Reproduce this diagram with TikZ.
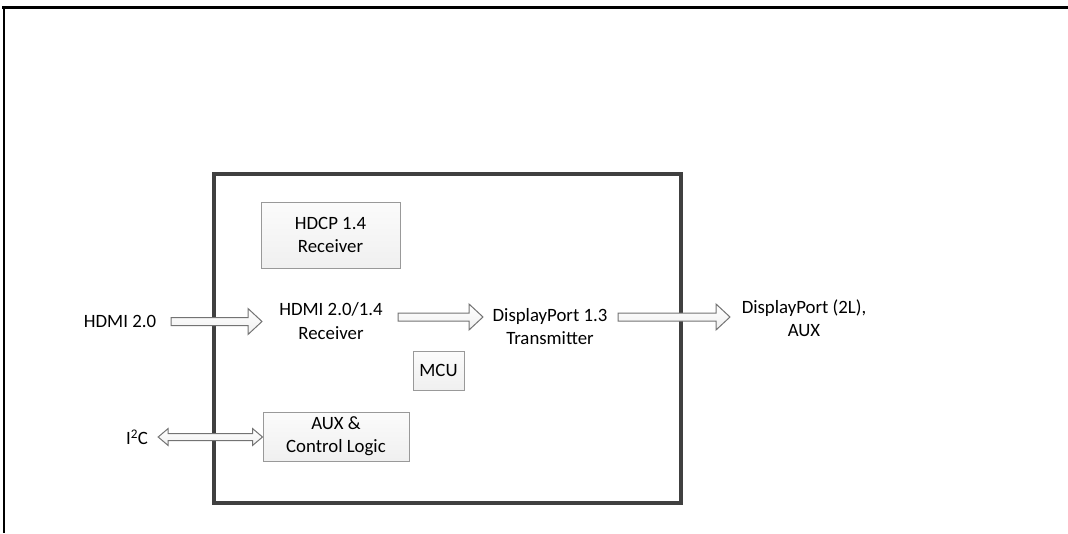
\documentclass[tikz,border=0pt]{standalone}
\usepackage{fontspec}
\setmainfont{Carlito}
\usetikzlibrary{calc}
\tikzset{
  lbl/.style={align=center, font=\fontsize{18.8}{23.5}\selectfont, inner sep=0pt},
  blk/.style={draw=gray!80, top color=gray!3, bottom color=gray!12, line width=1pt, align=center, font=\fontsize{18.8}{23}\selectfont, inner sep=0pt},
  barrow/.style={draw=gray!90!black, top color=white, bottom color=gray!12, line width=1pt, line join=miter},
  chip/.style={draw=black!75, line width=4pt},
  frame/.style={draw=black, line width=3pt}
}
\newcommand\blkarrow[2]{%
  \draw[barrow] let \p1=(#1), \p2=(#2) in
    (\x1,\y1+4) -- (\x2-14,\y1+4) -- (\x2-14,\y1+13) -- (\x2,\y1) --
    (\x2-14,\y1-13) -- (\x2-14,\y1-4) -- (\x1,\y1-4) -- cycle;}
\begin{document}
\begin{tikzpicture}[x=1pt,y=-1pt]
\useasboundingbox (0,0) rectangle (1068,533);
% outer frame lines
\draw[frame] (2,7) -- (1068,7);
\draw[draw=black, line width=2.2pt] (3.7,7) -- (3.7,533);
% main chip box
\draw[chip] (213.7,173.7) rectangle (681,503);
% blocks
\node[blk, minimum width=139pt, minimum height=66pt] (hdcp) at (330.5,235) {HDCP 1.4\\Receiver};
\node[blk, minimum width=51pt, minimum height=39pt] (mcu) at (438.5,370.5) {MCU};
\node[blk, minimum width=146pt, minimum height=49pt] (auxc) at (336,436.5) {AUX \&\\Control Logic};
% labels
\node[lbl] (hdmiin) at (120,321) {HDMI 2.0};
\node[lbl] (rx) at (331,321) {HDMI 2.0/1.4\\Receiver};
\node[lbl] (tx) at (550,326.5) {DisplayPort 1.3\\Transmitter};
\node[lbl] (dpout) at (804,318) {DisplayPort (2L),\\AUX};
\node[lbl] (i2c) at (137,437) {I\textsuperscript{2}C};
% arrow end points
\coordinate (a1s) at (171,321.5); \coordinate (a1e) at (262,321.5);
\coordinate (a2s) at (398,317); \coordinate (a2e) at (483,317);
\coordinate (a3s) at (618,317); \coordinate (a3e) at (730,317);
\blkarrow{a1s}{a1e}
\blkarrow{a2s}{a2e}
\blkarrow{a3s}{a3e}
% double arrow I2C
\draw[barrow] let \p1=($(i2c.east)+(10,0)$), \p2=(auxc.west) in
  (\x1,\y1) -- (\x1+10,\y1+8.5) -- (\x1+10,\y1+3.5) -- (\x2-10,\y1+3.5) --
  (\x2-10,\y1+8.5) -- (\x2,\y1) -- (\x2-10,\y1-8.5) -- (\x2-10,\y1-3.5) --
  (\x1+10,\y1-3.5) -- (\x1+10,\y1-8.5) -- cycle;
\end{tikzpicture}
\end{document}
